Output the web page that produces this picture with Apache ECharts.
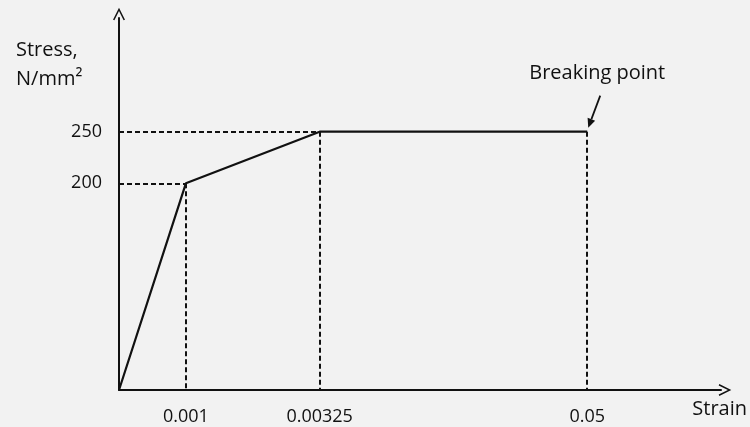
<!DOCTYPE html>
<html>
<head>
<meta charset="utf-8">
<script src="https://cdn.jsdelivr.net/npm/echarts@6/dist/echarts.min.js"></script>
<style>
    html, body { margin: 0; padding: 0; background: #f2f2f2; }
    #main { width: 750px; height: 427px; }
</style>
</head>
<body>
<div id="main"></div>
<script>
    // schematic strain axis: slots are not to scale, like the drawing
    var strainCategories = ['0', '', '0.001', '', '', '', '0.00325', '', '', '', '', '', '', '', '0.05', '', '', '', ''];
    var strainPoints = ['0', '0.001', '0.00325', '0.05'];
    var stressPoints = [0, 200, 250, 250];
    var stressTicks = [200, 250];

    var ink = '#111111';
    var font = '"Open Sans", "Liberation Sans", sans-serif';
    var chevron = 'path://M0,12 L6,0 L12,12 L10.6,12.6 L6,3.4 L1.4,12.6 Z';

    var lineData = strainPoints.map(function (s, i) {
        return [s, stressPoints[i]];
    });

    // dashed guides from each corner of the curve to the axes
    var guides = [
        [{coord: [strainPoints[0], stressPoints[1]]}, {coord: [strainPoints[1], stressPoints[1]]}],
        [{coord: [strainPoints[0], stressPoints[2]]}, {coord: [strainPoints[2], stressPoints[2]]}],
        [{coord: [strainPoints[1], stressPoints[1]]}, {coord: [strainPoints[1], 0]}],
        [{coord: [strainPoints[2], stressPoints[2]]}, {coord: [strainPoints[2], 0]}],
        [{coord: [strainPoints[3], stressPoints[3]]}, {coord: [strainPoints[3], 0]}]
    ];

    var myChart = echarts.init(document.getElementById('main'));
    var option = {
        backgroundColor: '#f2f2f2',
        animation: false,
        title: {
            text: 'Stress,\nN/mm²',
            left: 11,
            top: 31,
            textStyle: {
                fontFamily: font,
                fontSize: 20,
                fontWeight: 'normal',
                color: ink,
                lineHeight: 29
            }
        },
        grid: {
            left: 119,
            right: 28,
            top: 18,
            bottom: 37
        },
        xAxis: {
            type: 'category',
            boundaryGap: false,
            data: strainCategories,
            name: 'Strain',
            nameLocation: 'end',
            nameGap: 26,
            nameTextStyle: {
                fontFamily: font,
                fontSize: 20,
                color: ink,
                align: 'right',
                verticalAlign: 'top',
                padding: [9, 0, 0, 0]
            },
            axisLine: {
                symbol: ['none', chevron],
                symbolSize: [12, 13],
                symbolOffset: [0, 4],
                lineStyle: {color: ink, width: 2}
            },
            axisTick: {show: false},
            splitLine: {show: false},
            axisLabel: {
                interval: 0,
                margin: 18,
                fontFamily: font,
                fontSize: 18,
                color: ink,
                formatter: function (v) {
                    return v === '0' ? '' : v;
                }
            }
        },
        yAxis: {
            type: 'value',
            min: 0,
            max: 360,
            interval: 50,
            axisLine: {
                show: true,
                symbol: ['none', chevron],
                symbolSize: [12, 13],
                symbolOffset: [0, 4],
                lineStyle: {color: ink, width: 2}
            },
            axisTick: {show: false},
            splitLine: {show: false},
            axisLabel: {
                margin: 17,
                fontFamily: font,
                fontSize: 18,
                color: ink,
                formatter: function (v) {
                    return stressTicks.indexOf(v) >= 0 ? String(v) : '';
                }
            }
        },
        series: [
            {
                type: 'line',
                data: lineData,
                showSymbol: false,
                symbol: 'none',
                lineStyle: {color: ink, width: 2.2},
                markLine: {
                    silent: true,
                    symbol: ['none', 'none'],
                    label: {show: false},
                    lineStyle: {color: ink, width: 2, type: [5, 3]},
                    data: guides
                }
            }
        ]
    };
    myChart.setOption(option);

    // "Breaking point" note, placed from the last point of the curve
    var bp = myChart.convertToPixel({seriesIndex: 0}, [strainPoints[3], stressPoints[3]]);
    var tip = [bp[0] + 1, bp[1] - 4];
    var tail = [bp[0] + 13, bp[1] - 36];
    var ang = Math.atan2(tip[1] - tail[1], tip[0] - tail[0]);
    var hl = 9, hw = 4;
    var back = [tip[0] - hl * Math.cos(ang), tip[1] - hl * Math.sin(ang)];
    myChart.setOption({
        graphic: [
            {
                type: 'text',
                left: bp[0] - 58,
                top: bp[1] - 68,
                style: {
                    text: 'Breaking point',
                    font: '20px ' + font,
                    fill: ink
                }
            },
            {
                type: 'line',
                shape: {x1: tail[0], y1: tail[1], x2: back[0], y2: back[1]},
                style: {stroke: ink, lineWidth: 1.8}
            },
            {
                type: 'polygon',
                shape: {
                    points: [
                        tip,
                        [back[0] + hw * Math.sin(ang), back[1] - hw * Math.cos(ang)],
                        [back[0] - hw * Math.sin(ang), back[1] + hw * Math.cos(ang)]
                    ]
                },
                style: {fill: ink}
            }
        ]
    });
</script>
</body>
</html>
